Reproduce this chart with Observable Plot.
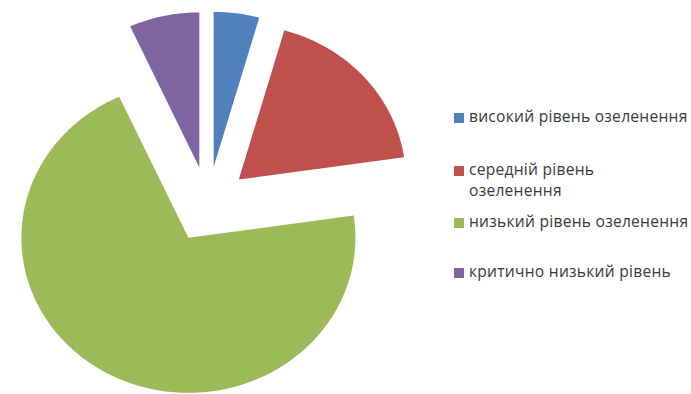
<!DOCTYPE html>
<html>
<head>
<meta charset="utf-8">
<script src="https://cdn.jsdelivr.net/npm/d3@7"></script>
<script src="https://cdn.jsdelivr.net/npm/@observablehq/plot@0.6"></script>
<style>
  html, body { margin: 0; padding: 0; background: #fff; }
  #wrap { position: relative; width: 691px; height: 394px; overflow: hidden; font-family: "Open Sans", sans-serif; }
  #chart { position: absolute; left: 0; top: 0; }
  #legend { position: absolute; left: 454px; top: 0; width: 237px; }
  .item { position: absolute; left: 0; display: flex; align-items: flex-start; font-size: 15.6px; letter-spacing: 0.25px; line-height: 20.5px; color: #3a3a3a; }
  .sw { width: 10px; height: 10px; margin-top: 6.75px; margin-right: 5px; flex: none; }
  .lbl { white-space: normal; }
</style>
</head>
<body>
<div id="wrap"><div id="chart"></div><div id="legend"></div></div>
<script>
// Data
const categories = ["високий рівень озеленення", "середній рівень озеленення", "низький рівень озеленення", "критично низький рівень"];
const shares = [4.4, 18.3, 70.5, 6.8];
const colors = ["#4F81BD", "#C0504D", "#9BBB59", "#8064A2"];

// Geometry (styling constants)
const W = 445, H = 394;
const cx = 207.5, cy = 204, rx = 167, ry = 155;
const explode = 0.245;

const pie = d3.pie().sort(null).value(d => d.value)(categories.map((c, i) => ({category: c, value: shares[i]})));
const pts = [];
for (const s of pie) {
  const mid = (s.startAngle + s.endAngle) / 2;
  const ox = explode * Math.sin(mid), oy = explode * Math.cos(mid);
  pts.push({category: s.data.category, u: ox, v: oy});
  const n = Math.max(8, Math.ceil((s.endAngle - s.startAngle) / 0.01));
  for (let k = 0; k <= n; k++) {
    const a = s.startAngle + (s.endAngle - s.startAngle) * k / n;
    pts.push({category: s.data.category, u: ox + Math.sin(a), v: oy + Math.cos(a)});
  }
  pts.push({category: s.data.category, u: ox, v: oy});
}

const plot = Plot.plot({
  width: W, height: H,
  margin: 0,
  x: {domain: [-cx / rx, (W - cx) / rx], axis: null},
  y: {domain: [(cy - H) / ry, cy / ry], axis: null},
  color: {domain: categories, range: colors},
  marks: [
    Plot.line(pts, {x: "u", y: "v", z: "category", fill: "category", stroke: "none", curve: "linear", clip: true})
  ]
});
document.getElementById("chart").append(plot);

const legendTops = [105.75, 159.25, 210.75, 260.75];
const legend = document.getElementById("legend");
const labels = [];
categories.forEach((c, i) => {
  const it = document.createElement("div");
  it.className = "item";
  it.style.top = legendTops[i] + "px";
  const sw = document.createElement("div");
  sw.className = "sw";
  sw.style.background = colors[i];
  const lb = document.createElement("span");
  lb.className = "lbl";
  lb.textContent = c;
  it.append(sw, lb);
  legend.append(it);
  labels.push(lb);
});
// legend text box width: fits the third label on one line (as in the reference layout)
const probe = document.createElement("span");
probe.style.whiteSpace = "nowrap";
probe.className = "lbl";
probe.textContent = categories[2];
legend.querySelector(".item:nth-child(3)").append(probe);
const boxW = Math.ceil(probe.getBoundingClientRect().width) + 1;
probe.remove();
labels.forEach(lb => { lb.style.display = "block"; lb.style.width = boxW + "px"; });
</script>
</body>
</html>
